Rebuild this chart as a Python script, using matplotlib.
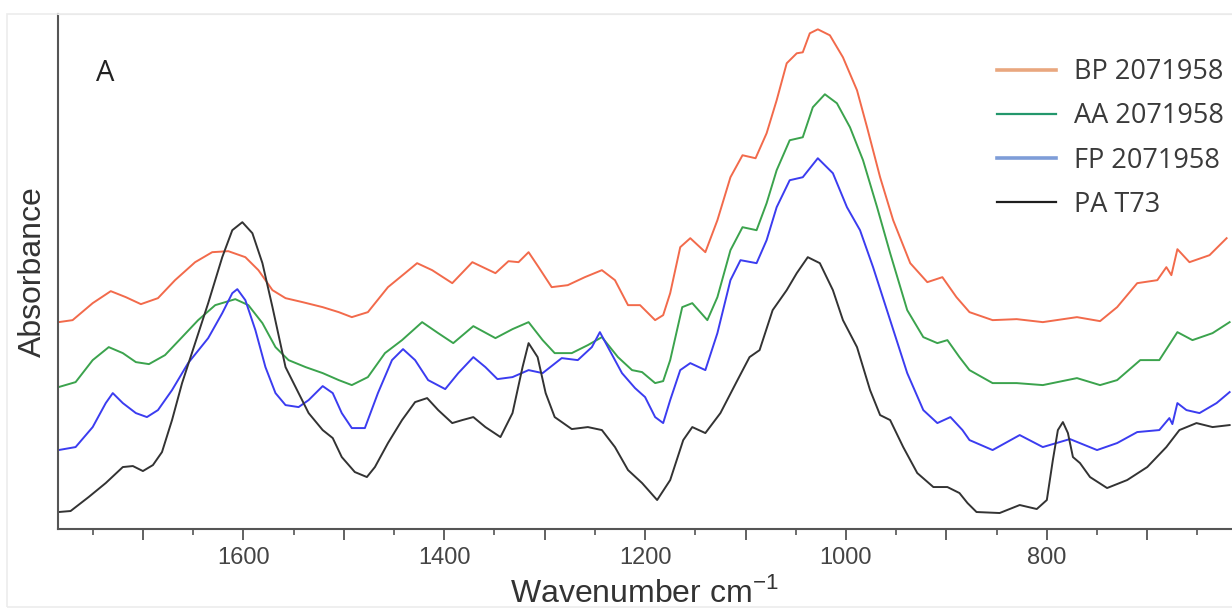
import numpy as np
import matplotlib
matplotlib.use("Agg")
import matplotlib.pyplot as plt
from matplotlib.lines import Line2D
from matplotlib.patches import Rectangle
from matplotlib.ticker import FuncFormatter

plt.rcParams['font.family'] = ['Liberation Sans', 'DejaVu Sans']
plt.rcParams['mathtext.fontset'] = 'custom'
plt.rcParams['mathtext.rm'] = 'Liberation Sans'

# ---- данные (отн. единицы поглощения) ----
wn_bp = [1784, 1770, 1750, 1732, 1717, 1702, 1685, 1668, 1648, 1631, 1615, 1598, 1585, 1571, 1558,
         1541, 1521, 1505, 1492, 1476, 1456, 1439, 1427, 1412, 1392, 1372, 1349, 1336, 1326, 1316,
         1306, 1293, 1277, 1260, 1243, 1230, 1217, 1205, 1190, 1182, 1175, 1165, 1155, 1140, 1128,
         1115, 1103, 1090, 1079, 1069, 1059, 1049, 1043, 1036, 1028, 1016, 1003, 989, 979, 966,
         953, 936, 919, 904, 890, 877, 854, 830, 804, 770, 747, 730, 710, 690, 681,
         676, 670, 658, 638, 621]
abs_bp = [0.414, 0.418, 0.452, 0.476, 0.464, 0.450, 0.462, 0.498, 0.534, 0.554, 0.556, 0.544, 0.518, 0.478, 0.462,
          0.454, 0.444, 0.434, 0.424, 0.434, 0.484, 0.512, 0.532, 0.518, 0.492, 0.534, 0.512, 0.536, 0.534, 0.554,
          0.524, 0.484, 0.488, 0.504, 0.518, 0.498, 0.448, 0.448, 0.418, 0.428, 0.472, 0.564, 0.582, 0.554, 0.618,
          0.704, 0.748, 0.742, 0.792, 0.858, 0.932, 0.952, 0.954, 0.992, 1.000, 0.988, 0.944, 0.878, 0.804, 0.704,
          0.618, 0.532, 0.494, 0.504, 0.464, 0.434, 0.418, 0.420, 0.414, 0.424, 0.416, 0.444, 0.492, 0.498, 0.524,
          0.508, 0.560, 0.534, 0.548, 0.582]

wn_aa = [1784, 1767, 1750, 1734, 1720, 1707, 1694, 1678, 1661, 1645, 1628, 1608, 1595, 1581, 1568,
         1555, 1538, 1521, 1505, 1492, 1476, 1459, 1442, 1422, 1406, 1391, 1371, 1349, 1332, 1316,
         1302, 1290, 1273, 1257, 1243, 1227, 1213, 1203, 1190, 1182, 1175, 1163, 1153, 1138, 1128,
         1115, 1103, 1089, 1079, 1069, 1056, 1043, 1033, 1021, 1009, 996, 983, 969, 956, 939,
         923, 909, 899, 887, 877, 854, 830, 804, 770, 747, 730, 707, 688, 670, 655,
         635, 618]
abs_aa = [0.284, 0.294, 0.338, 0.364, 0.352, 0.334, 0.330, 0.348, 0.384, 0.418, 0.448, 0.460, 0.448, 0.412, 0.364,
          0.338, 0.324, 0.312, 0.298, 0.288, 0.304, 0.352, 0.378, 0.414, 0.392, 0.372, 0.406, 0.382, 0.400, 0.414,
          0.378, 0.352, 0.352, 0.368, 0.384, 0.344, 0.318, 0.314, 0.292, 0.296, 0.338, 0.444, 0.452, 0.418, 0.464,
          0.558, 0.604, 0.598, 0.652, 0.718, 0.778, 0.784, 0.844, 0.870, 0.852, 0.804, 0.738, 0.644, 0.552, 0.438,
          0.384, 0.372, 0.378, 0.344, 0.318, 0.292, 0.292, 0.288, 0.302, 0.288, 0.298, 0.338, 0.338, 0.394, 0.378,
          0.392, 0.414]

wn_fp = [1784, 1767, 1750, 1737, 1730, 1720, 1707, 1696, 1685, 1671, 1655, 1635, 1621, 1611, 1606,
         1598, 1588, 1578, 1568, 1558, 1545, 1535, 1521, 1511, 1502, 1492, 1479, 1466, 1452, 1441,
         1429, 1416, 1399, 1386, 1371, 1359, 1347, 1332, 1316, 1302, 1283, 1267, 1253, 1245, 1237,
         1223, 1210, 1200, 1190, 1182, 1175, 1165, 1155, 1140, 1128, 1115, 1105, 1089, 1079, 1069,
         1056, 1043, 1028, 1013, 999, 986, 973, 956, 939, 923, 909, 896, 884, 877, 854,
         827, 804, 777, 750, 730, 710, 688, 678, 675, 670, 661, 648, 631, 618]
abs_fp = [0.158, 0.164, 0.204, 0.252, 0.272, 0.252, 0.232, 0.224, 0.238, 0.278, 0.332, 0.382, 0.432, 0.472, 0.480,
          0.458, 0.398, 0.324, 0.272, 0.248, 0.244, 0.258, 0.286, 0.272, 0.232, 0.202, 0.202, 0.272, 0.338, 0.360,
          0.338, 0.298, 0.280, 0.312, 0.344, 0.324, 0.300, 0.304, 0.318, 0.312, 0.342, 0.338, 0.364, 0.394, 0.364,
          0.312, 0.282, 0.264, 0.224, 0.212, 0.258, 0.318, 0.332, 0.318, 0.392, 0.498, 0.538, 0.532, 0.578, 0.644,
          0.698, 0.704, 0.742, 0.712, 0.644, 0.598, 0.524, 0.418, 0.312, 0.238, 0.212, 0.224, 0.198, 0.178, 0.158,
          0.188, 0.164, 0.180, 0.158, 0.172, 0.194, 0.198, 0.222, 0.210, 0.252, 0.238, 0.232, 0.252, 0.274]

wn_pa = [1784, 1772, 1754, 1737, 1720, 1710, 1700, 1690, 1681, 1671, 1661, 1648, 1635, 1621, 1611,
         1601, 1591, 1581, 1571, 1558, 1548, 1535, 1521, 1511, 1502, 1489, 1477, 1469, 1456, 1442,
         1429, 1417, 1406, 1392, 1382, 1371, 1359, 1344, 1332, 1322, 1316, 1307, 1299, 1290, 1273,
         1257, 1243, 1230, 1217, 1203, 1188, 1175, 1162, 1153, 1140, 1125, 1108, 1096, 1086, 1073,
         1059, 1049, 1038, 1026, 1013, 1003, 989, 976, 966, 956, 943, 929, 913, 899, 887,
         879, 870, 847, 827, 810, 800, 794, 789, 784, 779, 774, 767, 757, 740, 720,
         700, 681, 668, 651, 635, 618]
abs_pa = [0.034, 0.036, 0.064, 0.092, 0.124, 0.126, 0.116, 0.128, 0.154, 0.218, 0.292, 0.372, 0.452, 0.544, 0.598,
          0.614, 0.592, 0.532, 0.444, 0.324, 0.284, 0.232, 0.198, 0.182, 0.144, 0.114, 0.104, 0.124, 0.172, 0.218,
          0.254, 0.262, 0.238, 0.212, 0.218, 0.224, 0.204, 0.184, 0.232, 0.324, 0.372, 0.344, 0.272, 0.224, 0.200,
          0.204, 0.198, 0.164, 0.118, 0.092, 0.058, 0.098, 0.178, 0.204, 0.192, 0.232, 0.298, 0.344, 0.358, 0.438,
          0.478, 0.512, 0.544, 0.532, 0.478, 0.418, 0.364, 0.278, 0.228, 0.218, 0.164, 0.112, 0.084, 0.084, 0.072,
          0.052, 0.034, 0.032, 0.048, 0.040, 0.058, 0.138, 0.198, 0.214, 0.192, 0.144, 0.132, 0.104, 0.082, 0.098,
          0.124, 0.164, 0.198, 0.212, 0.204, 0.208]

labels = ['BP 2071958', 'AA 2071958', 'FP 2071958', 'PA T73']
line_colors = ['#f26a4b', '#3ba34d', '#3b3cf0', '#333333']
legend_colors = ['#e9a77f', '#23976c', '#7e9dd8', '#1e1e1e']

fig = plt.figure(figsize=(12.32, 6.12), dpi=100)
ax = fig.add_axes([0.0467, 0.1356, 0.953, 0.841])

series = [(wn_bp, abs_bp), (wn_aa, abs_aa), (wn_fp, abs_fp), (wn_pa, abs_pa)]
for (wn, ab), c in zip(series, line_colors):
    ax.plot(wn, ab, color=c, lw=1.4, solid_joinstyle='round')

ax.set_xlim(1785, 616)
ax.set_ylim(0, 1.03)

# оси: только левая и нижняя (сверху бледная линия рамки)
ax.spines['right'].set_visible(False)
ax.spines['top'].set_color('#e4e4e4')
for s in ['left', 'bottom']:
    ax.spines[s].set_color('#555555')
    ax.spines[s].set_linewidth(1.5)

ax.set_yticks([])
# длинные риски каждые 100, подписи только каждые 200
ax.set_xticks(np.arange(700, 1785, 100))
ax.xaxis.set_major_formatter(FuncFormatter(lambda v, p: f'{int(v)}' if int(v) % 200 == 0 else ''))
ax.set_xticks(np.arange(650, 1785, 100), minor=True)
ax.tick_params(axis='x', which='major', length=8, width=1.3, color='#555555',
               labelsize=17, labelcolor='#444444', pad=5)
ax.tick_params(axis='x', which='minor', length=4, width=1.2, color='#555555')

ax.set_xlabel(r'Wavenumber cm$^{-1}$', fontsize=23, color='#333333', labelpad=6)
ax.set_ylabel('Absorbance', fontsize=23, color='#333333', labelpad=7)

ax.text(0.033, 0.885, 'A', transform=ax.transAxes, fontsize=21, color='#222222',
        family=['Open Sans', 'DejaVu Sans'], va='center')

handles = [Line2D([0], [0], color=c, lw=lw) for c, lw in zip(legend_colors, [2.6, 1.6, 2.6, 1.6])]
leg = ax.legend(handles, labels, loc='upper left', bbox_to_anchor=(0.8, 0.915),
                frameon=False, handlelength=2.2, handletextpad=0.66, labelspacing=0.6,
                borderpad=0, borderaxespad=0,
                prop={'family': ['Open Sans', 'DejaVu Sans'], 'size': 19.5})
for t in leg.get_texts():
    t.set_color('#3a3a3a')

# бледная рамка вокруг всей картинки как в оригинале
fig.add_artist(Rectangle((7 / 1232, 5 / 612), 1.0, 1 - 19 / 612, transform=fig.transFigure,
                         fill=False, edgecolor='#ececec', lw=1.2))

fig.savefig('out.png', dpi=100)
